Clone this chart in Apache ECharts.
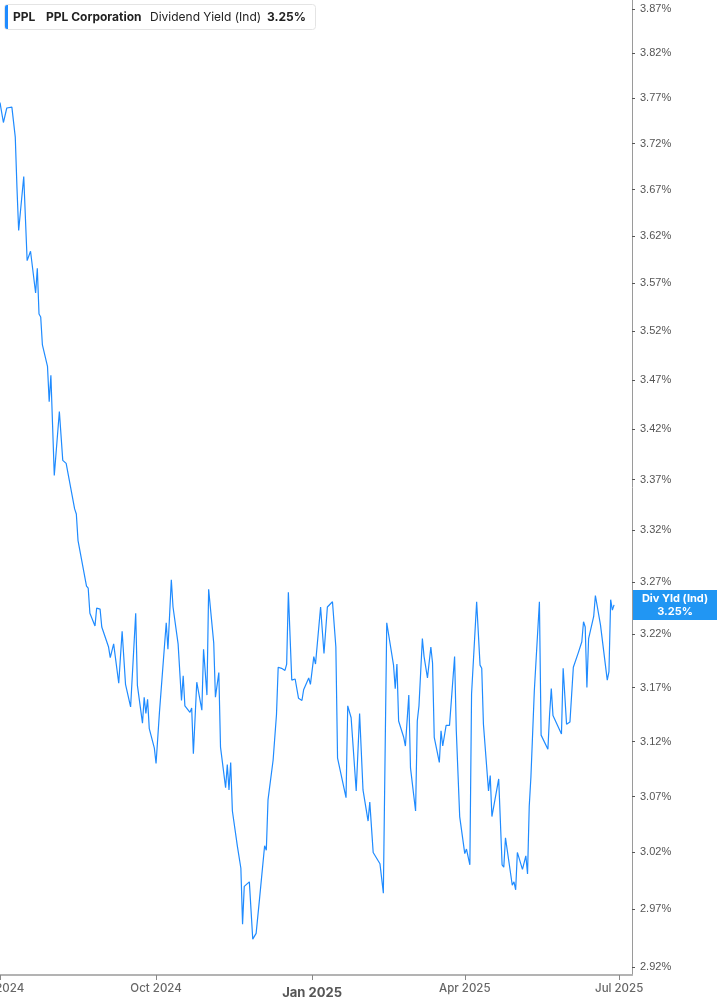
<!DOCTYPE html>
<html><head><meta charset="utf-8">
<script src="https://cdn.jsdelivr.net/npm/echarts@6/dist/echarts.min.js"></script>
<style>html,body{margin:0;padding:0;background:#fff}#c{width:717px;height:1005px}</style>
</head><body><div id="c"></div><script>
const dates = ['2024-07-01','2024-07-03','2024-07-05','2024-07-08','2024-07-09','2024-07-10','2024-07-11','2024-07-12','2024-07-15','2024-07-17','2024-07-18','2024-07-19','2024-07-22','2024-07-23','2024-07-24','2024-07-25','2024-07-26','2024-07-29','2024-07-30','2024-07-31',
'2024-08-01','2024-08-02','2024-08-05','2024-08-07','2024-08-09','2024-08-14','2024-08-15','2024-08-16','2024-08-21','2024-08-22','2024-08-23','2024-08-26','2024-08-27','2024-08-29','2024-08-30',
'2024-09-03','2024-09-04','2024-09-06','2024-09-09','2024-09-11','2024-09-12','2024-09-13','2024-09-16','2024-09-19','2024-09-20','2024-09-23','2024-09-24','2024-09-25','2024-09-26','2024-09-27','2024-09-30',
'2024-10-01','2024-10-03','2024-10-07','2024-10-08','2024-10-10','2024-10-11','2024-10-14','2024-10-16','2024-10-17','2024-10-18','2024-10-21','2024-10-22','2024-10-23','2024-10-25','2024-10-28','2024-10-29','2024-10-31',
'2024-11-01','2024-11-04','2024-11-05','2024-11-07','2024-11-08','2024-11-11','2024-11-12','2024-11-13','2024-11-14','2024-11-15',
'2024-11-18','2024-11-20','2024-11-21','2024-11-22','2024-11-25','2024-11-27','2024-11-29',
'2024-12-01','2024-12-04','2024-12-05','2024-12-06','2024-12-09','2024-12-11','2024-12-12','2024-12-14','2024-12-16','2024-12-17','2024-12-18','2024-12-20','2024-12-22','2024-12-23','2024-12-24','2024-12-26','2024-12-27','2024-12-30','2024-12-31',
'2025-01-02','2025-01-03','2025-01-06','2025-01-08','2025-01-10','2025-01-13','2025-01-15','2025-01-16','2025-01-21','2025-01-22','2025-01-24','2025-01-27','2025-01-29','2025-01-31',
'2025-02-03','2025-02-04','2025-02-06','2025-02-10','2025-02-12','2025-02-13','2025-02-14','2025-02-18','2025-02-19','2025-02-20','2025-02-21','2025-02-24','2025-02-25','2025-02-27','2025-02-28',
'2025-03-03','2025-03-04','2025-03-05','2025-03-07','2025-03-08','2025-03-10','2025-03-11','2025-03-12','2025-03-13','2025-03-14','2025-03-17','2025-03-18','2025-03-19','2025-03-20','2025-03-21','2025-03-23','2025-03-24','2025-03-26','2025-03-27','2025-03-29',
'2025-04-01','2025-04-02','2025-04-04','2025-04-05','2025-04-08','2025-04-09','2025-04-10','2025-04-11','2025-04-12','2025-04-15','2025-04-16','2025-04-17','2025-04-21','2025-04-23','2025-04-24','2025-04-25','2025-04-29','2025-04-30',
'2025-05-01','2025-05-02','2025-05-05','2025-05-07','2025-05-08','2025-05-09','2025-05-10','2025-05-12','2025-05-15','2025-05-16','2025-05-20','2025-05-21','2025-05-22','2025-05-23','2025-05-28','2025-05-29','2025-05-31',
'2025-06-02','2025-06-04','2025-06-07','2025-06-09','2025-06-10','2025-06-11','2025-06-12','2025-06-13','2025-06-16','2025-06-17','2025-06-20','2025-06-24','2025-06-25','2025-06-26','2025-06-27','2025-06-28'];

const yieldValues = [3.765,3.743,3.759,3.760,3.758,3.727,3.672,3.626,3.684,3.594,3.593,3.604,3.560,3.586,3.538,3.535,3.506,3.484,3.448,3.475,
3.424,3.374,3.438,3.389,3.386,3.341,3.336,3.310,3.266,3.264,3.240,3.228,3.245,3.244,3.227,
3.208,3.198,3.211,3.174,3.223,3.222,3.173,3.152,3.240,3.172,3.137,3.161,3.146,3.159,3.132,3.114,
3.100,3.147,3.231,3.206,3.272,3.246,3.211,3.158,3.181,3.153,3.147,3.151,3.109,3.175,3.149,3.206,3.163,
3.263,3.212,3.161,3.184,3.115,3.078,3.099,3.076,3.101,3.057,
3.025,3.006,2.957,2.990,2.994,2.944,2.949,
2.979,3.026,3.022,3.067,3.103,3.145,3.189,3.188,3.186,3.192,3.260,3.177,3.178,3.177,3.160,3.158,3.168,3.179,3.173,
3.199,3.192,3.246,3.202,3.246,3.251,3.208,3.105,3.069,3.153,3.142,3.075,3.146,3.076,
3.048,3.065,3.020,3.010,2.984,2.984,3.231,3.191,3.169,3.192,3.139,3.124,3.116,3.163,3.096,
3.057,3.139,3.153,3.216,3.199,3.179,3.179,3.208,3.193,3.124,3.101,3.130,3.116,3.116,3.135,3.135,3.134,3.199,3.130,3.052,
3.019,3.023,3.009,3.164,3.251,3.251,3.191,3.188,3.136,3.075,3.089,3.052,3.086,3.009,3.007,3.033,2.991,2.994,
2.987,3.020,3.005,3.017,3.001,3.061,3.088,3.167,3.251,3.126,3.113,3.145,3.169,3.144,3.127,3.188,3.136,
3.138,3.189,3.203,3.213,3.232,3.227,3.170,3.216,3.237,3.257,3.229,3.177,3.185,3.253,3.243,3.248];

const yTickValues = [2.92,2.97,3.02,3.07,3.12,3.17,3.22,3.27,3.32,3.37,3.42,3.47,3.52,3.57,3.62,3.67,3.72,3.77,3.82,3.87];
const xTickDates = ['2024-07-01','2024-10-01','2025-01-01','2025-04-01','2025-07-01'];
const xTickLabels = ['Jul 2024','Oct 2024','Jan 2025','Apr 2025','Jul 2025'];
const xMinDate = '2024-07-01T00:00:00Z';
const xMaxDate = '2025-07-08T14:00:00Z';
const yMin = 2.9131, yMax = 3.8803;

const lineColor = '#1f8bff';
const xMinTs = Date.parse(xMinDate), xMaxTs = Date.parse(xMaxDate);
const seriesData = dates.map((d, i) => [Date.parse(d), Math.log(yieldValues[i])]);
const lastVal = yieldValues[yieldValues.length - 1];
const yTickLog = yTickValues.map(v => Math.log(v));
const xTickTs = xTickDates.map(d => Date.parse(d));

const chart = echarts.init(document.getElementById('c'), null, {renderer: 'canvas'});
chart.setOption({
  animation: false,
  backgroundColor: '#fff',
  grid: {left: 0, right: 85, top: 0, bottom: 30, containLabel: false, outerBoundsMode: 'none'},
  xAxis: {
    type: 'value', min: xMinTs, max: xMaxTs,
    splitLine: {show: false},
    axisLine: {show: true, lineStyle: {color: '#b3b3b3', width: 2}},
    axisTick: {show: true, customValues: xTickTs, length: 5, lineStyle: {color: '#888', width: 1}},
    axisLabel: {
      customValues: xTickTs, margin: 8,
      color: '#666', fontSize: 11.5, fontFamily: 'Inter', fontWeight: 500,
      formatter: function (v) {
        const i = xTickTs.indexOf(v);
        const s = i >= 0 ? xTickLabels[i] : '';
        return s.indexOf('Jan') === 0 ? '{b|' + s + '}' : s;
      },
      rich: {b: {fontWeight: 'bold', fontSize: 13, color: '#555', fontFamily: 'Inter', padding: [4, 0, 0, 0]}}
    }
  },
  yAxis: {
    type: 'value', position: 'right', min: Math.log(yMin), max: Math.log(yMax),
    splitLine: {show: false},
    axisLine: {show: true, lineStyle: {color: '#9a9a9a', width: 1}},
    axisTick: {show: true, customValues: yTickLog, length: 3, lineStyle: {color: '#555', width: 1}},
    axisLabel: {
      customValues: yTickLog, margin: 8,
      color: '#555', fontSize: 11, fontFamily: 'Liberation Sans',
      formatter: v => Math.exp(v).toFixed(2) + '%'
    }
  },
  graphic: [
    {type: 'rect', x: 4.5, y: 4.5, shape: {width: 311, height: 25, r: 3}, style: {fill: '#fff', stroke: '#e4e4e4', lineWidth: 1}},
    {type: 'rect', x: 5, y: 5, shape: {width: 3, height: 24, r: [2, 0, 0, 2]}, style: {fill: lineColor}},
    {type: 'text', x: 13, y: 17, style: {text: 'PPL', font: 'bold 12px Inter', fill: '#222', verticalAlign: 'middle'}},
    {type: 'text', x: 46, y: 17, style: {text: 'PPL Corporation', font: 'bold 12px Inter', fill: '#222', verticalAlign: 'middle'}},
    {type: 'text', x: 150, y: 17, style: {text: 'Dividend Yield (Ind)', font: '12px Inter', fill: '#222', verticalAlign: 'middle'}},
    {type: 'text', x: 267, y: 17, style: {text: lastVal.toFixed(2) + '%', font: 'bold 12px Inter', fill: '#222', verticalAlign: 'middle'}}
  ],
  series: [{
    type: 'line', data: seriesData, showSymbol: false, symbol: 'none',
    lineStyle: {width: 1.2, color: lineColor}, itemStyle: {color: lineColor},
    clip: true, silent: true,
    markPoint: {
      silent: true, animation: false,
      symbol: 'rect', symbolSize: [84, 30], symbolOffset: [43, 0],
      itemStyle: {color: '#2196f3'},
      label: {show: true, position: 'inside', color: '#fff', fontWeight: 'bold', fontSize: 11, lineHeight: 13, fontFamily: 'Inter',
        formatter: 'Div Yld (Ind)\n' + lastVal.toFixed(2) + '%'},
      data: [{coord: [xMaxTs, Math.log(lastVal)]}]
    }
  }]
});
</script></body></html>
